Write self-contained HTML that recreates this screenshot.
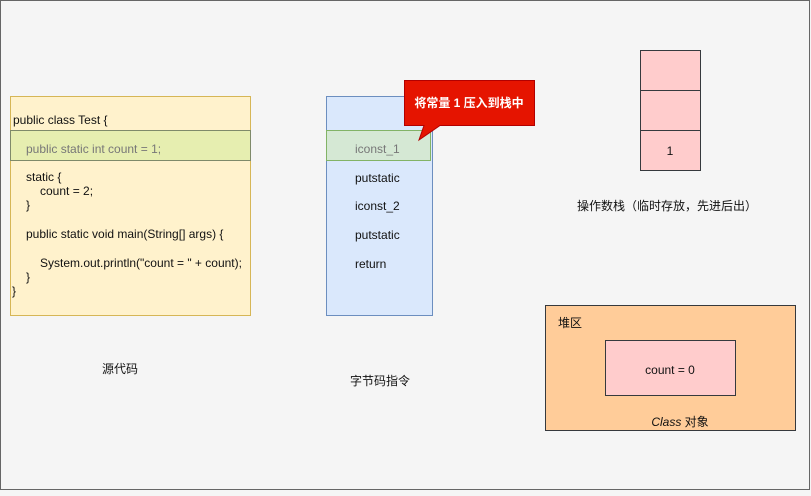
<!DOCTYPE html>
<html><head><meta charset="utf-8"><style>
html,body{margin:0;padding:0;background:#f5f5f5;}
svg text{font-family:"Liberation Sans","Noto Sans CJK SC",sans-serif;font-size:12px;fill:#111;}
</style></head><body>
<svg width="811" height="491" viewBox="0 0 811 491" xmlns="http://www.w3.org/2000/svg">
<rect x="0.5" y="0.5" width="809" height="489" fill="#f5f5f5" stroke="#666"/>
<!-- source -->
<rect x="10.5" y="96.5" width="240" height="219" fill="#fff2cc" stroke="#d6b656"/>
<rect x="10.5" y="130.5" width="240" height="30" fill="#e6eeb0" stroke="#7f8a6a"/>
<text x="13" y="124">public class Test {</text>
<text x="26" y="153" style="fill:#777">public static int count = 1;</text>
<text x="26" y="181">static {</text>
<text x="40" y="195">count = 2;</text>
<text x="26" y="209">}</text>
<text x="26" y="238">public static void main(String[] args) {</text>
<text x="40" y="267">System.out.println("count = " + count);</text>
<text x="26" y="281">}</text>
<text x="12" y="295">}</text>
<text x="120" y="373" text-anchor="middle">源代码</text>
<!-- bytecode -->
<rect x="326.5" y="96.5" width="106" height="219" fill="#dae8fc" stroke="#6c8ebf"/>
<rect x="326.5" y="130.5" width="104" height="30" fill="#d5e8d4" stroke="#82b366"/>
<text x="355" y="153" style="fill:#777">iconst_1</text>
<text x="355" y="182">putstatic</text>
<text x="355" y="210">iconst_2</text>
<text x="355" y="239">putstatic</text>
<text x="355" y="268">return</text>
<text x="380" y="385" text-anchor="middle">字节码指令</text>
<!-- callout -->
<path d="M404.5 80.5 H534.5 V125.5 H440 L419 140 L424 125.5 H404.5 Z" fill="#e51400" stroke="#b20000"/>
<text x="469" y="107" text-anchor="middle" style="fill:#fff;font-weight:bold">将常量 1 压入到栈中</text>
<!-- stack -->
<rect x="640.5" y="50.5" width="60" height="40" fill="#ffcccc" stroke="#36393d"/>
<rect x="640.5" y="90.5" width="60" height="40" fill="#ffcccc" stroke="#36393d"/>
<rect x="640.5" y="130.5" width="60" height="40" fill="#ffcccc" stroke="#36393d"/>
<text x="670" y="155" text-anchor="middle">1</text>
<text x="667" y="210" text-anchor="middle">操作数栈（临时存放，先进后出）</text>
<!-- heap -->
<rect x="545.5" y="305.5" width="250" height="125" fill="#ffcc99" stroke="#36393d"/>
<text x="558" y="327">堆区</text>
<rect x="605.5" y="340.5" width="130" height="55" fill="#ffcccc" stroke="#36393d"/>
<text x="670" y="374" text-anchor="middle">count = 0</text>
<text x="680" y="426" text-anchor="middle"><tspan font-style="italic">Class</tspan> 对象</text>
</svg>
</body></html>
